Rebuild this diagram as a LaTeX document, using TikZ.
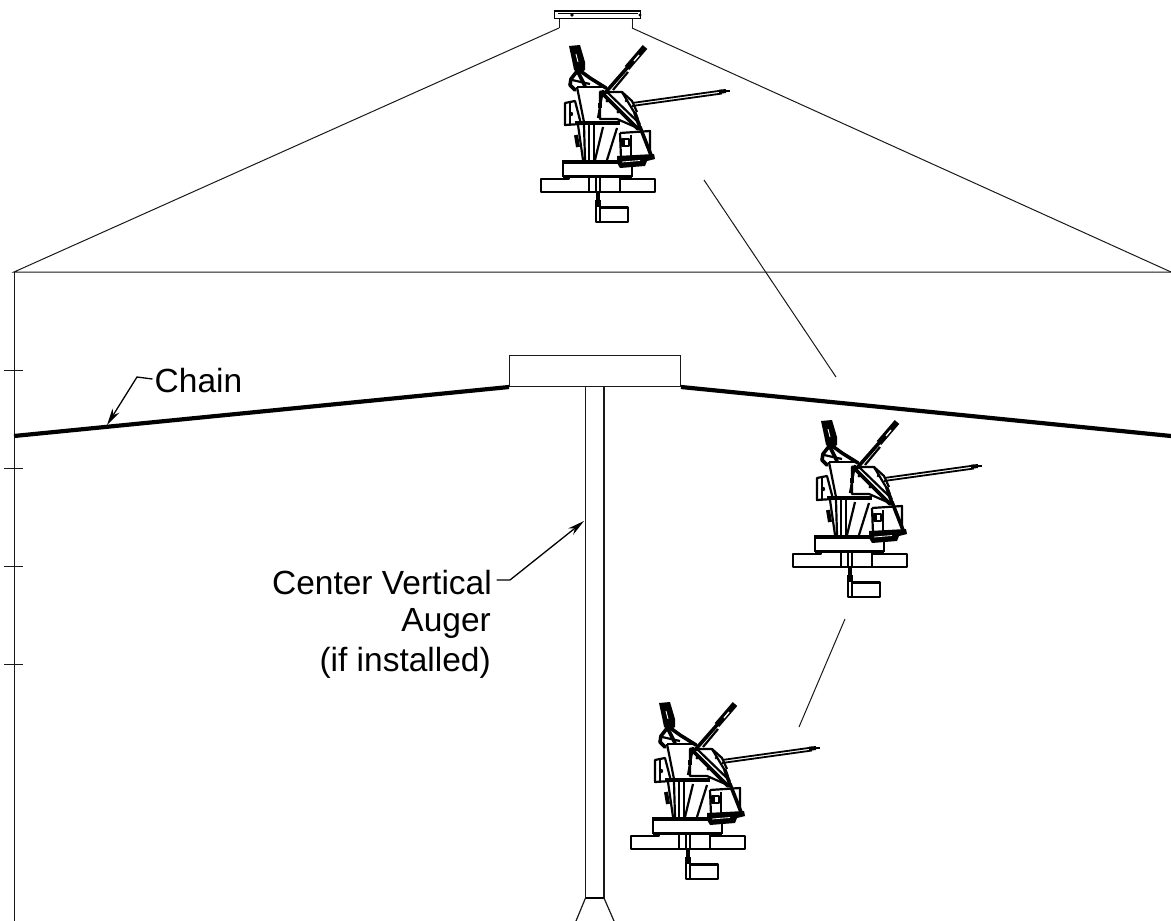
\documentclass[tikz,border=0pt]{standalone}
\usepackage{fontspec}
\setmainfont{Liberation Sans}
\usetikzlibrary{arrows.meta}
\tikzset{
 thin line/.style={line width=1pt,black!90},
 chain line/.style={line width=4.2pt,black,line cap=butt},
 leader/.style={line width=1.3pt,black,-{Stealth[length=17pt,width=8pt]}},
 label text/.style={font=\fontsize{33.5}{38}\selectfont,inner sep=0pt},
 m1/.style={line width=1.4pt,black,line join=round},
 m2/.style={line width=2.2pt,black,line join=round},
 m3/.style={line width=3.6pt,black,line join=round,line cap=round},
 machine/.pic={
  % left arm, a dark mast that forks above the hopper
  \fill[black] (569,46)--(580,45)--(585,62)--(585,70)--(579,73)--(574,70)--(572,60)--cycle;
  \draw[m3] (578,70)--(571,79)--(570,85)--(575,90);
  \draw[m3] (579,70)--(590,78)--(606,88);
  \draw[m3] (577,70)--(585,86);
  \draw[m2] (572,80)--(590,84);
  \draw[white,line width=0.9pt] (576,54)--(578,62);
  % right arm
  \draw[m3] (605,93)--(627,68);
  \draw[m2] (613,90)--(628,72);
  \draw[line width=6pt,black] (627,68)--(645,47);
  \draw[white,line width=1.3pt] (634,61)--(639,55);
  % hopper
  \draw[m2] (577,87)--(606,87);
  \draw[m2] (577,87)--(584,122);
  \draw[m2] (603,90)--(598,118);
  % side box
  \draw[m2,fill=white] (565,103)--(575,101)--(581,124)--(565,125)--cycle;
  \draw[m2] (570,103)--(570,124);
  \fill (571,114) circle (2.2);
  % long arm
  \draw[line width=1.8pt] (632,103)--(722,90.5);
  \draw[line width=1.8pt] (632,106)--(722,93.5);
  \draw[line width=4pt] (719,91.8)--(726,91);
  \draw[line width=2.2pt] (726,91)--(730,91);
  % diagonal plate
  \draw[m2] (600,92)--(622,92)--(637,117)--(640,129)--(617,119)--(600,119)--cycle;
  \draw[m3] (601,92)--(638,129);
  \draw[m2] (607,92)--(640,124);
  \draw[m2] (622,92)--(632,101)--(637,112);
  \fill (607,101) circle (1.6) (618,112) circle (1.6) (626,101) circle (1.3);
  \draw[line width=3.8pt] (600,103)--(600,108);
  \draw[m3] (635,113)--(640,128);
  % deck
  \draw[line width=3.8pt] (575,123)--(620,123);
  \draw[m2] (578,125)--(583,160);
  \draw[m2] (584,125)--(585,160);
  \draw[m2] (589,125)--(589,160);
  \draw[m2] (594,125)--(594,160);
  \draw[m2] (603,127)--(595,160);
  \draw[m2] (617,128)--(607,160);
  \draw[line width=4pt] (576,135)--(578,147);
  % right housing
  \draw[m2] (620,133)--(650,131)--(650,155);
  \draw[m2] (620,133)--(621,158);
  \draw[m2] (631,135)--(631,157);
  \draw[m2] (622,139)--(629,139)--(629,146)--(622,146)--cycle;
  \draw[m1] (624,139)--(624,146);
  \draw[m3] (640,127)--(651,155);
  % base plate
  \draw[line width=3.8pt] (562,162)--(622,162);
  \fill[black] (617,156)--(654,154)--(655,159)--(647,161)--(645,166)--(620,168)--(617,163)--cycle;
  \draw[white,line width=0.8pt] (622,162)--(640,160.5);
  \draw[m2] (563,164)--(563,177);
  \draw[m2] (632,167)--(632,177);
  \draw[m2] (563,176.5)--(632,176.5);
  % wide box
  \draw[m2] (569,177)--(569,179)--(541,179)--(541,192)--(655,192)--(655,179)--(620,179)--(620,177);
  \draw[m2] (589,177)--(589,192) (620,179)--(620,192);
  \draw[m2] (596,177)--(596,192);
  \draw[m2] (600,177)--(600,192);
  % lower shaft and box
  \draw[line width=3.6pt] (598,192)--(598,207);
  \draw[m2] (596,200)--(596,222)--(628,222)--(628,207.5)--(600,207.5);
  \draw[m2] (600,200)--(600,222);
 }
}
\begin{document}
\begin{tikzpicture}[x=1pt,y=-1pt]
\useasboundingbox (0,0) rectangle (1171,921);
% roof cap
\draw[line width=1.6pt] (554.5,11) rectangle (640.5,18.5);
\draw[line width=1pt] (558,13.5)--(638,13.5);
\fill (572,15) circle (1.8) (640,15) circle (1.6);
\coordinate (capL) at (559,28); \coordinate (capR) at (632,28);
\draw[thin line] (559,18.5)--(capL);
\draw[thin line] (632,18.5)--(capR);
\draw[thin line] (capL)--(14,272)--(1171,272);
\draw[thin line] (capR)--(1171,272);
\draw[thin line] (14,272)--(14,921);
\draw[thin line] (4,370)--(23,370) (4,468)--(23,468) (4,566)--(23,566) (4,664)--(23,664);
% header box
\node[draw=black!90,line width=1pt,minimum width=171pt,minimum height=31pt,inner sep=0pt] (hub) at (595,371) {};
\coordinate (chainL) at (14,436);
\coordinate (chainR) at (1171,436);
\draw[chain line] (chainL)--(hub.south west);
\draw[chain line] (hub.south east)--(chainR);
% auger
\draw[line width=1.2pt,black!90] (585.5,387)--(585.5,898) (604,387)--(604,898);
\draw[line width=1.5pt] (585.5,898)--(604,898);
\draw[line width=1.2pt,black!90] (585.5,898)--(576,921) (604,898)--(614,921);
% machines
\pic at (0,0) {machine};
\pic at (252,375) {machine};
\pic at (90,657) {machine};
% path lines
\coordinate (p1) at (704,180); \coordinate (p2) at (836,377);
\coordinate (p3) at (845,619); \coordinate (p4) at (799,727);
\draw[thin line] (p1)--(p2);
\draw[thin line] (p3)--(p4);
% labels
\node[label text,anchor=base west] (chain) at (154.5,392) {Chain};
\draw[leader] (chain.west) ++(-2,-1) -- (137,377) -- (107,425);
\node[label text,anchor=base east] (cva) at (492,594.5) {Center Vertical};
\node[label text,anchor=base east] (aug) at (491,631) {Auger};
\node[label text,anchor=base east] (ifi) at (491,671) {(if installed)};
\draw[leader] (496.5,580)--(510,580)--(584,521);
\end{tikzpicture}
\end{document}
